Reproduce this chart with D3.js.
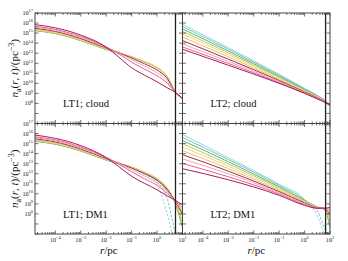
<!DOCTYPE html>
<html><head><meta charset="utf-8">
<script src="https://cdn.jsdelivr.net/npm/d3@7"></script>
<style>body{margin:0;background:#fff} svg{display:block}</style>
</head><body>
<svg id="c" width="348" height="261"></svg>
<script>
// ---------------- DATA ----------------
const lineColors = ["#9fd0e6","#6cc7c4","#5cb572","#b9c95c","#f1d774","#f5b883","#8e3b30","#f2a3bd","#e2629b","#ae1a5b"];
const panelNames = ["LT1; cloud","LT2; cloud","LT1; DM1","LT2; DM1"];
const xTickValues = [1e-4,1e-3,1e-2,1e-1,1,10];
const xTickExp = ["−4","−3","−2","−1","0","1"];
const yTickValues = [1e8,1e9,1e10,1e11,1e12,1e13,1e14,1e15,1e16,1e17];
const yTickExp = ["8","9","10","11","12","13","14","15","16","17"];
const rTidal = [5.3, 6.7];           // pc, vertical lines (LT1, LT2)
const rLeft  = [1.58e-5,1e-4,1e-3,1e-2,3.16e-2,0.1,0.316,1,2.51,5.25,10];
const rRight = [1.58e-5,1e-3,0.1,1,3.16,6.31,10];
// log10 n_a values, one row per time (colour index)
const lt1Cloud = [
 [15.30,15.00,14.30,13.40,13.00,12.62,12.14,11.55,10.65,9.10,8.50],
 [15.28,14.98,14.28,13.38,12.99,12.62,12.14,11.55,10.65,9.10,8.50],
 [15.25,14.95,14.25,13.36,12.98,12.62,12.15,11.56,10.66,9.10,8.50],
 [15.27,14.97,14.27,13.38,13.00,12.65,12.17,11.57,10.66,9.10,8.50],
 [15.32,15.02,14.32,13.42,13.02,12.64,12.15,11.55,10.64,9.10,8.50],
 [15.38,15.08,14.38,13.46,13.04,12.62,12.12,11.50,10.60,9.10,8.50],
 [15.48,15.17,14.46,13.52,13.05,12.52,11.95,11.32,10.48,9.10,8.50],
 [15.58,15.27,14.56,13.58,13.02,12.35,11.72,11.05,10.25,9.10,8.50],
 [15.68,15.37,14.66,13.63,12.92,12.10,11.42,10.75,10.02,9.10,8.50],
 [15.85,15.52,14.80,13.60,12.60,11.55,10.82,10.15,9.55,9.10,8.50]
];
const lt2Cloud = [
 [15.88,13.55,10.90,9.50,8.80,8.30,7.80],
 [15.66,13.40,10.80,9.45,8.76,8.28,7.80],
 [15.41,13.22,10.68,9.38,8.72,8.26,7.80],
 [15.16,13.04,10.58,9.32,8.68,8.24,7.80],
 [14.91,12.86,10.48,9.26,8.64,8.22,7.80],
 [14.61,12.64,10.38,9.20,8.60,8.20,7.80],
 [14.26,12.40,10.28,9.14,8.56,8.17,7.80],
 [13.92,12.18,10.18,9.08,8.52,8.15,7.80],
 [13.62,11.98,10.08,9.03,8.48,8.12,7.80],
 [13.39,11.80,10.00,9.00,8.45,8.10,7.80]
];
const lt1DM1 = [
 [15.22,14.93,14.25,13.35,12.97,12.62,12.00,10.90,8.00,5.00,4.00],
 [15.24,14.95,14.27,13.37,12.98,12.63,12.08,11.20,9.50,6.20,5.00],
 [15.25,14.96,14.28,13.38,13.00,12.65,12.12,11.40,10.30,9.00,6.60],
 [15.28,14.98,14.30,13.40,13.02,12.67,12.15,11.50,10.50,9.15,7.00],
 [15.32,15.02,14.33,13.42,13.03,12.67,12.15,11.52,10.55,9.20,7.35],
 [15.38,15.08,14.38,13.46,13.05,12.65,12.13,11.50,10.55,9.22,7.70],
 [15.48,15.17,14.46,13.52,13.06,12.56,12.00,11.35,10.45,9.25,8.00],
 [15.58,15.27,14.56,13.58,13.03,12.40,11.78,11.10,10.25,9.28,8.30],
 [15.68,15.37,14.66,13.63,12.95,12.20,11.50,10.85,10.05,9.30,8.60],
 [15.85,15.52,14.80,13.60,12.70,11.75,11.05,10.40,9.80,9.35,8.90]
];
const lt2DM1 = [
 [15.90,13.60,10.95,9.45,7.80,5.80,4.50],
 [15.62,13.42,10.84,9.40,8.30,6.50,5.20],
 [15.30,13.20,10.70,9.35,8.70,8.40,6.60],
 [14.98,12.98,10.58,9.30,8.68,8.45,7.00],
 [14.65,12.76,10.46,9.24,8.66,8.48,7.30],
 [14.30,12.52,10.34,9.18,8.64,8.50,7.60],
 [13.90,12.26,10.22,9.10,8.62,8.52,7.90],
 [13.48,12.00,10.10,9.02,8.60,8.54,8.15],
 [13.02,11.70,9.98,8.94,8.58,8.56,8.40],
 [12.50,11.40,9.85,8.85,8.56,8.58,8.65]
];
const dashedRows = [0,1];   // rows whose outer tail is dashed in the DM1 panels

// ---------------- LAYOUT ----------------
const L = 35, T = 13, PW = 147.5, PH = 110.5;
const svg = d3.select("#c");
const serif = "'Liberation Serif','DejaVu Serif',serif";
const x = d3.scaleLog().domain([Math.pow(10,-4.8), 10]).range([0, PW]);
const y = d3.scaleLog().domain([1e6, 1e17]).range([PH, 0]);

const panels = [
  {col:0,row:0,r:rLeft, data:lt1Cloud, dm:false, tidal:rTidal[0], dashFrom:6},
  {col:1,row:0,r:rRight,data:lt2Cloud, dm:false, tidal:rTidal[1], dashFrom:3},
  {col:0,row:1,r:rLeft, data:lt1DM1,  dm:true,  tidal:rTidal[0], dashFrom:6},
  {col:1,row:1,r:rRight,data:lt2DM1,  dm:true,  tidal:rTidal[1], dashFrom:3}
];

const minorX = [];
for (let k=-5;k<=0;k++) for (let m=2;m<=9;m++){const v=m*Math.pow(10,k); if(v>=x.domain()[0]&&v<=10) minorX.push(v);}
const majorY = d3.range(6,18).map(e=>Math.pow(10,e));

panels.forEach((p,pi)=>{
  const g = svg.append("g").attr("transform",`translate(${L+p.col*PW},${T+p.row*PH})`);
  const cid = "clip"+pi;
  g.append("clipPath").attr("id",cid).append("rect").attr("width",PW).attr("height",PH);
  const lg = g.append("g").attr("clip-path",`url(#${cid})`);
  const pts = row => row.map((d,i)=>[x(p.r[i]), y(Math.pow(10,d))]);
  const line = d3.line().curve(d3.curveMonotoneX);
  p.data.forEach((row,i)=>{
    const P = pts(row);
    if (p.dm && dashedRows.includes(i)) {
      const path = lg.append("path").attr("d",line(P)).attr("fill","none")
        .attr("stroke",lineColors[i]).attr("stroke-width",1);
      // solid up to the split point, dashed afterwards
      const node = path.node();
      const total = node.getTotalLength();
      // find length at split x
      let lo=0, hi=total, target=P[p.dashFrom][0];
      for (let k=0;k<30;k++){const mid=(lo+hi)/2; if(node.getPointAtLength(mid).x<target) lo=mid; else hi=mid;}
      const split = lo;
      const dashes = [split, 0];
      let acc = split; while (acc < total+10){ dashes.push(2.5,1.5); acc+=4; }
      path.attr("stroke-dasharray", dashes.join(","));
    } else {
      lg.append("path").attr("d",line(P)).attr("fill","none")
        .attr("stroke",lineColors[i]).attr("stroke-width",1);
    }
  });
  // tidal radius line
  g.append("line").attr("x1",x(p.tidal)).attr("x2",x(p.tidal)).attr("y1",0).attr("y2",PH)
    .attr("stroke","#222").attr("stroke-width",1.3);
  // ticks
  const tk = g.append("g").attr("stroke","#333").attr("stroke-width",0.7);
  xTickValues.forEach(v=>{ const xx=x(v);
    tk.append("line").attr("x1",xx).attr("x2",xx).attr("y1",PH).attr("y2",PH-3.5);
    tk.append("line").attr("x1",xx).attr("x2",xx).attr("y1",0).attr("y2",3.5);});
  minorX.forEach(v=>{ const xx=x(v);
    tk.append("line").attr("x1",xx).attr("x2",xx).attr("y1",PH).attr("y2",PH-2);
    tk.append("line").attr("x1",xx).attr("x2",xx).attr("y1",0).attr("y2",2);});
  majorY.forEach(v=>{ const yy=y(v);
    tk.append("line").attr("x1",0).attr("x2",3.5).attr("y1",yy).attr("y2",yy);
    tk.append("line").attr("x1",PW).attr("x2",PW-3.5).attr("y1",yy).attr("y2",yy);});
  // frame
  g.append("rect").attr("width",PW).attr("height",PH).attr("fill","none")
    .attr("stroke","#444").attr("stroke-width",1);
  // panel label
  g.append("text").attr("x",28).attr("y",94).attr("font-family",serif).attr("font-size",10.5)
    .attr("fill","#111").text(panelNames[pi]);
  // tick labels
  if (p.row===1){
    xTickValues.forEach((v,i)=>{
      const t = g.append("text").attr("x",x(v)).attr("y",PH+7.5).attr("text-anchor","middle")
        .attr("font-family",serif).attr("font-size",6.2).attr("fill","#222");
      t.append("tspan").text("10");
      t.append("tspan").attr("dy",-2.6).attr("font-size",4.4).text(xTickExp[i]);
    });
  }
  if (p.col===0){
    yTickValues.forEach((v,i)=>{
      const t = g.append("text").attr("x",-2).attr("y",y(v)+2).attr("text-anchor","end")
        .attr("font-family",serif).attr("font-size",6.2).attr("fill","#222");
      t.append("tspan").text("10");
      t.append("tspan").attr("dy",-2.6).attr("font-size",4.4).text(yTickExp[i]);
    });
  }
});

// axis labels
[0,1].forEach(row=>{
  const cy = T + row*PH + PH/2;
  const t = svg.append("text").attr("transform",`translate(18,${cy}) rotate(-90)`)
    .attr("text-anchor","middle").attr("font-family",serif).attr("font-size",11).attr("fill","#111");
  t.append("tspan").attr("font-style","italic").text("n");
  t.append("tspan").attr("dy",2.5).attr("font-size",8).text("a");
  t.append("tspan").attr("dy",-2.5).text("(");
  t.append("tspan").attr("font-style","italic").text("r");
  t.append("tspan").text(", ");
  t.append("tspan").attr("font-style","italic").text("t");
  t.append("tspan").text(")/(pc");
  t.append("tspan").attr("dy",-4).attr("font-size",8).text("−3");
  t.append("tspan").attr("dy",4).text(")");
});
[0,1].forEach(col=>{
  const t = svg.append("text").attr("x",L+col*PW+PW/2).attr("y",254).attr("text-anchor","middle")
    .attr("font-family",serif).attr("font-size",11).attr("fill","#111");
  t.append("tspan").attr("font-style","italic").text("r");
  t.append("tspan").text("/pc");
});
</script>
</body></html>
